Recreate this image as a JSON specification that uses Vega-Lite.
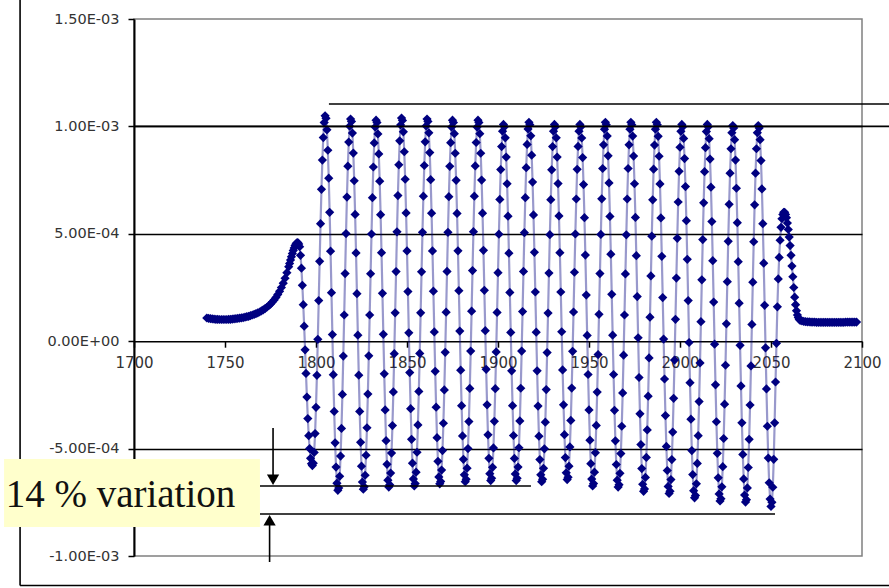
{
  "$schema": "https://vega.github.io/schema/vega-lite/v6.json",
  "width": 728,
  "height": 537,
  "autosize": {"type": "none"},
  "padding": {"left": 134, "top": 19, "right": 27, "bottom": 32},
  "background": "#ffffff",
  "config": {
    "view": {"stroke": "#808080", "strokeWidth": 1.5}
  },
  "datasets": {
    "sig": [
      {"x":1740,"y":1.08e-4},{"x":1741,"y":1.06e-4},{"x":1742,"y":1.05e-4},{"x":1743,"y":1.04e-4},{"x":1744,"y":1.03e-4},{"x":1745,"y":1.02e-4},{"x":1746,"y":1.02e-4},{"x":1747,"y":1.01e-4},{"x":1748,"y":1.01e-4},{"x":1749,"y":1.01e-4},
      {"x":1750,"y":1.01e-4},{"x":1751,"y":1.01e-4},{"x":1752,"y":1.02e-4},{"x":1753,"y":1.02e-4},{"x":1754,"y":1.03e-4},{"x":1755,"y":1.04e-4},{"x":1756,"y":1.05e-4},{"x":1757,"y":1.06e-4},{"x":1758,"y":1.07e-4},{"x":1759,"y":1.09e-4},
      {"x":1760,"y":1.10e-4},{"x":1761,"y":1.12e-4},{"x":1762,"y":1.14e-4},{"x":1763,"y":1.16e-4},{"x":1764,"y":1.19e-4},{"x":1765,"y":1.22e-4},{"x":1766,"y":1.25e-4},{"x":1767,"y":1.28e-4},{"x":1768,"y":1.32e-4},{"x":1769,"y":1.36e-4},
      {"x":1770,"y":1.41e-4},{"x":1771,"y":1.46e-4},{"x":1772,"y":1.52e-4},{"x":1773,"y":1.58e-4},{"x":1774,"y":1.65e-4},{"x":1775,"y":1.73e-4},{"x":1776,"y":1.82e-4},{"x":1777,"y":1.92e-4},{"x":1778,"y":2.04e-4},{"x":1779,"y":2.17e-4},
      {"x":1780,"y":2.32e-4},{"x":1781,"y":2.50e-4},{"x":1782,"y":2.70e-4},{"x":1783,"y":2.93e-4},{"x":1784,"y":3.19e-4},{"x":1785,"y":3.47e-4},{"x":1785.5,"y":3.62e-4},{"x":1786,"y":3.78e-4},{"x":1786.5,"y":3.93e-4},{"x":1787,"y":4.08e-4},
      {"x":1787.5,"y":4.22e-4},{"x":1788,"y":4.34e-4},{"x":1788.5,"y":4.45e-4},{"x":1789,"y":4.53e-4},{"x":1789.5,"y":4.58e-4},{"x":1790,"y":4.59e-4},{"x":1790.5,"y":4.52e-4},
      {"x":1791,"y":4.4e-4},{"x":1791.5,"y":4.0e-4},{"x":1792,"y":3.4e-4},{"x":1792.5,"y":2.6e-4},{"x":1793,"y":1.7e-4},{"x":1793.5,"y":0.7e-4},{"x":1794,"y":-0.4e-4},{"x":1794.5,"y":-1.5e-4},{"x":1795,"y":-2.6e-4},{"x":1795.5,"y":-3.6e-4},{"x":1796,"y":-4.4e-4},{"x":1796.5,"y":-5.0e-4},{"x":1797,"y":-5.45e-4},{"x":1797.5,"y":-5.7e-4},

      {"x":1798,"y":-5.79e-4},{"x":1798.5,"y":-5.68e-4},{"x":1799,"y":-5.18e-4},{"x":1799.5,"y":-4.30e-4},{"x":1800,"y":-3.08e-4},{"x":1800.5,"y":-1.59e-4},{"x":1801,"y":0.09e-4},{"x":1801.5,"y":1.89e-4},{"x":1802,"y":3.72e-4},{"x":1802.5,"y":5.47e-4},{"x":1803,"y":7.07e-4},{"x":1803.5,"y":8.43e-4},{"x":1804,"y":9.48e-4},{"x":1804.5,"y":10.18e-4},
      {"x":1805,"y":10.49e-4},{"x":1805.5,"y":10.38e-4},{"x":1806,"y":9.84e-4},{"x":1806.5,"y":8.89e-4},{"x":1807,"y":7.59e-4},{"x":1807.5,"y":6.00e-4},{"x":1808,"y":4.19e-4},{"x":1808.5,"y":2.26e-4},{"x":1809,"y":0.31e-4},{"x":1809.5,"y":-1.56e-4},{"x":1810,"y":-3.27e-4},{"x":1810.5,"y":-4.73e-4},{"x":1811,"y":-5.86e-4},{"x":1811.5,"y":-6.61e-4},

      {"x":1812,"y":-6.94e-4},{"x":1812.5,"y":-6.83e-4},{"x":1813,"y":-6.29e-4},{"x":1813.5,"y":-5.35e-4},{"x":1814,"y":-4.06e-4},{"x":1814.5,"y":-2.48e-4},{"x":1815,"y":-0.69e-4},{"x":1815.5,"y":1.22e-4},{"x":1816,"y":3.15e-4},{"x":1816.5,"y":5.01e-4},{"x":1817,"y":6.71e-4},{"x":1817.5,"y":8.15e-4},{"x":1818,"y":9.27e-4},{"x":1818.5,"y":10.01e-4},
      {"x":1819,"y":10.34e-4},{"x":1819.5,"y":10.23e-4},{"x":1820,"y":9.69e-4},{"x":1820.5,"y":8.76e-4},{"x":1821,"y":7.47e-4},{"x":1821.5,"y":5.90e-4},{"x":1822,"y":4.11e-4},{"x":1822.5,"y":2.21e-4},{"x":1823,"y":0.28e-4},{"x":1823.5,"y":-1.58e-4},{"x":1824,"y":-3.27e-4},{"x":1824.5,"y":-4.71e-4},{"x":1825,"y":-5.82e-4},{"x":1825.5,"y":-6.56e-4},

      {"x":1826,"y":-6.89e-4},{"x":1826.5,"y":-6.78e-4},{"x":1827,"y":-6.24e-4},{"x":1827.5,"y":-5.31e-4},{"x":1828,"y":-4.03e-4},{"x":1828.5,"y":-2.46e-4},{"x":1829,"y":-0.68e-4},{"x":1829.5,"y":1.22e-4},{"x":1830,"y":3.14e-4},{"x":1830.5,"y":4.99e-4},{"x":1831,"y":6.68e-4},{"x":1831.5,"y":8.11e-4},{"x":1832,"y":9.23e-4},{"x":1832.5,"y":9.97e-4},
      {"x":1833,"y":10.29e-4},{"x":1833.5,"y":10.18e-4},{"x":1834,"y":9.65e-4},{"x":1834.5,"y":8.72e-4},{"x":1835,"y":7.45e-4},{"x":1835.5,"y":5.89e-4},{"x":1836,"y":4.12e-4},{"x":1836.5,"y":2.23e-4},{"x":1837,"y":0.32e-4},{"x":1837.5,"y":-1.52e-4},{"x":1838,"y":-3.20e-4},{"x":1838.5,"y":-4.63e-4},{"x":1839,"y":-5.73e-4},{"x":1839.5,"y":-6.47e-4},

      {"x":1840,"y":-6.79e-4},{"x":1840.5,"y":-6.68e-4},{"x":1841,"y":-6.14e-4},{"x":1841.5,"y":-5.21e-4},{"x":1842,"y":-3.93e-4},{"x":1842.5,"y":-2.36e-4},{"x":1843,"y":-0.58e-4},{"x":1843.5,"y":1.32e-4},{"x":1844,"y":3.24e-4},{"x":1844.5,"y":5.09e-4},{"x":1845,"y":6.78e-4},{"x":1845.5,"y":8.21e-4},{"x":1846,"y":9.33e-4},{"x":1846.5,"y":10.07e-4},
      {"x":1847,"y":10.39e-4},{"x":1847.5,"y":10.28e-4},{"x":1848,"y":9.75e-4},{"x":1848.5,"y":8.82e-4},{"x":1849,"y":7.54e-4},{"x":1849.5,"y":5.97e-4},{"x":1850,"y":4.20e-4},{"x":1850.5,"y":2.31e-4},{"x":1851,"y":0.39e-4},{"x":1851.5,"y":-1.46e-4},{"x":1852,"y":-3.14e-4},{"x":1852.5,"y":-4.57e-4},{"x":1853,"y":-5.68e-4},{"x":1853.5,"y":-6.41e-4},

      {"x":1854,"y":-6.74e-4},{"x":1854.5,"y":-6.63e-4},{"x":1855,"y":-6.10e-4},{"x":1855.5,"y":-5.17e-4},{"x":1856,"y":-3.90e-4},{"x":1856.5,"y":-2.34e-4},{"x":1857,"y":-0.57e-4},{"x":1857.5,"y":1.32e-4},{"x":1858,"y":3.23e-4},{"x":1858.5,"y":5.07e-4},{"x":1859,"y":6.75e-4},{"x":1859.5,"y":8.18e-4},{"x":1860,"y":9.28e-4},{"x":1860.5,"y":10.02e-4},
      {"x":1861,"y":10.34e-4},{"x":1861.5,"y":10.23e-4},{"x":1862,"y":9.70e-4},{"x":1862.5,"y":8.78e-4},{"x":1863,"y":7.52e-4},{"x":1863.5,"y":5.96e-4},{"x":1864,"y":4.20e-4},{"x":1864.5,"y":2.33e-4},{"x":1865,"y":0.43e-4},{"x":1865.5,"y":-1.40e-4},{"x":1866,"y":-3.07e-4},{"x":1866.5,"y":-4.49e-4},{"x":1867,"y":-5.59e-4},{"x":1867.5,"y":-6.32e-4},

      {"x":1868,"y":-6.64e-4},{"x":1868.5,"y":-6.53e-4},{"x":1869,"y":-6.00e-4},{"x":1869.5,"y":-5.09e-4},{"x":1870,"y":-3.82e-4},{"x":1870.5,"y":-2.27e-4},{"x":1871,"y":-0.52e-4},{"x":1871.5,"y":1.35e-4},{"x":1872,"y":3.25e-4},{"x":1872.5,"y":5.07e-4},{"x":1873,"y":6.73e-4},{"x":1873.5,"y":8.14e-4},{"x":1874,"y":9.24e-4},{"x":1874.5,"y":9.97e-4},
      {"x":1875,"y":10.29e-4},{"x":1875.5,"y":10.18e-4},{"x":1876,"y":9.66e-4},{"x":1876.5,"y":8.75e-4},{"x":1877,"y":7.49e-4},{"x":1877.5,"y":5.95e-4},{"x":1878,"y":4.21e-4},{"x":1878.5,"y":2.35e-4},{"x":1879,"y":0.47e-4},{"x":1879.5,"y":-1.35e-4},{"x":1880,"y":-3.00e-4},{"x":1880.5,"y":-4.41e-4},{"x":1881,"y":-5.50e-4},{"x":1881.5,"y":-6.22e-4},

      {"x":1882,"y":-6.54e-4},{"x":1882.5,"y":-6.43e-4},{"x":1883,"y":-5.91e-4},{"x":1883.5,"y":-5.00e-4},{"x":1884,"y":-3.74e-4},{"x":1884.5,"y":-2.20e-4},{"x":1885,"y":-0.46e-4},{"x":1885.5,"y":1.40e-4},{"x":1886,"y":3.29e-4},{"x":1886.5,"y":5.10e-4},{"x":1887,"y":6.75e-4},{"x":1887.5,"y":8.16e-4},{"x":1888,"y":9.25e-4},{"x":1888.5,"y":9.97e-4},
      {"x":1889,"y":10.29e-4},{"x":1889.5,"y":10.18e-4},{"x":1890,"y":9.66e-4},{"x":1890.5,"y":8.75e-4},{"x":1891,"y":7.50e-4},{"x":1891.5,"y":5.96e-4},{"x":1892,"y":4.23e-4},{"x":1892.5,"y":2.37e-4},{"x":1893,"y":0.49e-4},{"x":1893.5,"y":-1.31e-4},{"x":1894,"y":-2.96e-4},{"x":1894.5,"y":-4.36e-4},{"x":1895,"y":-5.45e-4},{"x":1895.5,"y":-6.17e-4},

      {"x":1896,"y":-6.49e-4},{"x":1896.5,"y":-6.38e-4},{"x":1897,"y":-5.87e-4},{"x":1897.5,"y":-4.97e-4},{"x":1898,"y":-3.73e-4},{"x":1898.5,"y":-2.21e-4},{"x":1899,"y":-0.50e-4},{"x":1899.5,"y":1.34e-4},{"x":1900,"y":3.19e-4},{"x":1900.5,"y":4.98e-4},{"x":1901,"y":6.60e-4},{"x":1901.5,"y":7.99e-4},{"x":1902,"y":9.06e-4},{"x":1902.5,"y":9.78e-4},
      {"x":1903,"y":10.09e-4},{"x":1903.5,"y":9.98e-4},{"x":1904,"y":9.47e-4},{"x":1904.5,"y":8.57e-4},{"x":1905,"y":7.33e-4},{"x":1905.5,"y":5.82e-4},{"x":1906,"y":4.10e-4},{"x":1906.5,"y":2.27e-4},{"x":1907,"y":0.41e-4},{"x":1907.5,"y":-1.38e-4},{"x":1908,"y":-3.00e-4},{"x":1908.5,"y":-4.39e-4},{"x":1909,"y":-5.46e-4},{"x":1909.5,"y":-6.18e-4},

      {"x":1910,"y":-6.49e-4},{"x":1910.5,"y":-6.38e-4},{"x":1911,"y":-5.86e-4},{"x":1911.5,"y":-4.96e-4},{"x":1912,"y":-3.71e-4},{"x":1912.5,"y":-2.19e-4},{"x":1913,"y":-0.46e-4},{"x":1913.5,"y":1.38e-4},{"x":1914,"y":3.25e-4},{"x":1914.5,"y":5.05e-4},{"x":1915,"y":6.68e-4},{"x":1915.5,"y":8.08e-4},{"x":1916,"y":9.16e-4},{"x":1916.5,"y":9.88e-4},
      {"x":1917,"y":10.19e-4},{"x":1917.5,"y":10.08e-4},{"x":1918,"y":9.56e-4},{"x":1918.5,"y":8.66e-4},{"x":1919,"y":7.41e-4},{"x":1919.5,"y":5.88e-4},{"x":1920,"y":4.14e-4},{"x":1920.5,"y":2.29e-4},{"x":1921,"y":0.42e-4},{"x":1921.5,"y":-1.38e-4},{"x":1922,"y":-3.02e-4},{"x":1922.5,"y":-4.42e-4},{"x":1923,"y":-5.51e-4},{"x":1923.5,"y":-6.22e-4},

      {"x":1924,"y":-6.54e-4},{"x":1924.5,"y":-6.43e-4},{"x":1925,"y":-5.92e-4},{"x":1925.5,"y":-5.01e-4},{"x":1926,"y":-3.77e-4},{"x":1926.5,"y":-2.25e-4},{"x":1927,"y":-0.53e-4},{"x":1927.5,"y":1.31e-4},{"x":1928,"y":3.17e-4},{"x":1928.5,"y":4.96e-4},{"x":1929,"y":6.59e-4},{"x":1929.5,"y":7.98e-4},{"x":1930,"y":9.06e-4},{"x":1930.5,"y":9.78e-4},
      {"x":1931,"y":10.09e-4},{"x":1931.5,"y":9.98e-4},{"x":1932,"y":9.47e-4},{"x":1932.5,"y":8.57e-4},{"x":1933,"y":7.34e-4},{"x":1933.5,"y":5.83e-4},{"x":1934,"y":4.12e-4},{"x":1934.5,"y":2.29e-4},{"x":1935,"y":0.44e-4},{"x":1935.5,"y":-1.34e-4},{"x":1936,"y":-2.96e-4},{"x":1936.5,"y":-4.35e-4},{"x":1937,"y":-5.42e-4},{"x":1937.5,"y":-6.13e-4},

      {"x":1938,"y":-6.44e-4},{"x":1938.5,"y":-6.33e-4},{"x":1939,"y":-5.82e-4},{"x":1939.5,"y":-4.92e-4},{"x":1940,"y":-3.69e-4},{"x":1940.5,"y":-2.18e-4},{"x":1941,"y":-0.47e-4},{"x":1941.5,"y":1.36e-4},{"x":1942,"y":3.21e-4},{"x":1942.5,"y":4.99e-4},{"x":1943,"y":6.62e-4},{"x":1943.5,"y":8.00e-4},{"x":1944,"y":9.07e-4},{"x":1944.5,"y":9.78e-4},
      {"x":1945,"y":10.09e-4},{"x":1945.5,"y":9.98e-4},{"x":1946,"y":9.46e-4},{"x":1946.5,"y":8.55e-4},{"x":1947,"y":7.29e-4},{"x":1947.5,"y":5.75e-4},{"x":1948,"y":4.01e-4},{"x":1948.5,"y":2.15e-4},{"x":1949,"y":0.27e-4},{"x":1949.5,"y":-1.55e-4},{"x":1950,"y":-3.20e-4},{"x":1950.5,"y":-4.61e-4},{"x":1951,"y":-5.70e-4},{"x":1951.5,"y":-6.42e-4},

      {"x":1952,"y":-6.74e-4},{"x":1952.5,"y":-6.63e-4},{"x":1953,"y":-6.10e-4},{"x":1953.5,"y":-5.19e-4},{"x":1954,"y":-3.92e-4},{"x":1954.5,"y":-2.37e-4},{"x":1955,"y":-0.62e-4},{"x":1955.5,"y":1.25e-4},{"x":1956,"y":3.15e-4},{"x":1956.5,"y":4.97e-4},{"x":1957,"y":6.63e-4},{"x":1957.5,"y":8.04e-4},{"x":1958,"y":9.14e-4},{"x":1958.5,"y":9.87e-4},
      {"x":1959,"y":10.19e-4},{"x":1959.5,"y":10.08e-4},{"x":1960,"y":9.55e-4},{"x":1960.5,"y":8.63e-4},{"x":1961,"y":7.37e-4},{"x":1961.5,"y":5.81e-4},{"x":1962,"y":4.05e-4},{"x":1962.5,"y":2.18e-4},{"x":1963,"y":0.28e-4},{"x":1963.5,"y":-1.55e-4},{"x":1964,"y":-3.22e-4},{"x":1964.5,"y":-4.64e-4},{"x":1965,"y":-5.74e-4},{"x":1965.5,"y":-6.47e-4},

      {"x":1966,"y":-6.79e-4},{"x":1966.5,"y":-6.68e-4},{"x":1967,"y":-6.15e-4},{"x":1967.5,"y":-5.23e-4},{"x":1968,"y":-3.96e-4},{"x":1968.5,"y":-2.41e-4},{"x":1969,"y":-0.65e-4},{"x":1969.5,"y":1.22e-4},{"x":1970,"y":3.13e-4},{"x":1970.5,"y":4.95e-4},{"x":1971,"y":6.62e-4},{"x":1971.5,"y":8.04e-4},{"x":1972,"y":9.14e-4},{"x":1972.5,"y":9.87e-4},
      {"x":1973,"y":10.19e-4},{"x":1973.5,"y":10.08e-4},{"x":1974,"y":9.55e-4},{"x":1974.5,"y":8.62e-4},{"x":1975,"y":7.33e-4},{"x":1975.5,"y":5.76e-4},{"x":1976,"y":3.98e-4},{"x":1976.5,"y":2.08e-4},{"x":1977,"y":0.16e-4},{"x":1977.5,"y":-1.69e-4},{"x":1978,"y":-3.38e-4},{"x":1978.5,"y":-4.81e-4},{"x":1979,"y":-5.93e-4},{"x":1979.5,"y":-6.66e-4},

      {"x":1980,"y":-6.99e-4},{"x":1980.5,"y":-6.88e-4},{"x":1981,"y":-6.34e-4},{"x":1981.5,"y":-5.41e-4},{"x":1982,"y":-4.13e-4},{"x":1982.5,"y":-2.56e-4},{"x":1983,"y":-0.78e-4},{"x":1983.5,"y":1.12e-4},{"x":1984,"y":3.04e-4},{"x":1984.5,"y":4.89e-4},{"x":1985,"y":6.58e-4},{"x":1985.5,"y":8.01e-4},{"x":1986,"y":9.13e-4},{"x":1986.5,"y":9.87e-4},
      {"x":1987,"y":10.19e-4},{"x":1987.5,"y":10.08e-4},{"x":1988,"y":9.54e-4},{"x":1988.5,"y":8.61e-4},{"x":1989,"y":7.32e-4},{"x":1989.5,"y":5.74e-4},{"x":1990,"y":3.95e-4},{"x":1990.5,"y":2.03e-4},{"x":1991,"y":0.10e-4},{"x":1991.5,"y":-1.76e-4},{"x":1992,"y":-3.46e-4},{"x":1992.5,"y":-4.90e-4},{"x":1993,"y":-6.02e-4},{"x":1993.5,"y":-6.76e-4},

      {"x":1994,"y":-7.09e-4},{"x":1994.5,"y":-6.98e-4},{"x":1995,"y":-6.44e-4},{"x":1995.5,"y":-5.51e-4},{"x":1996,"y":-4.23e-4},{"x":1996.5,"y":-2.66e-4},{"x":1997,"y":-0.88e-4},{"x":1997.5,"y":1.02e-4},{"x":1998,"y":2.94e-4},{"x":1998.5,"y":4.79e-4},{"x":1999,"y":6.48e-4},{"x":1999.5,"y":7.91e-4},{"x":2000,"y":9.03e-4},{"x":2000.5,"y":9.77e-4},
      {"x":2001,"y":10.09e-4},{"x":2001.5,"y":9.98e-4},{"x":2002,"y":9.44e-4},{"x":2002.5,"y":8.50e-4},{"x":2003,"y":7.20e-4},{"x":2003.5,"y":5.61e-4},{"x":2004,"y":3.81e-4},{"x":2004.5,"y":1.89e-4},{"x":2005,"y":-0.06e-4},{"x":2005.5,"y":-1.93e-4},{"x":2006,"y":-3.63e-4},{"x":2006.5,"y":-5.09e-4},{"x":2007,"y":-6.21e-4},{"x":2007.5,"y":-6.96e-4},

      {"x":2008,"y":-7.29e-4},{"x":2008.5,"y":-7.18e-4},{"x":2009,"y":-6.64e-4},{"x":2009.5,"y":-5.69e-4},{"x":2010,"y":-4.40e-4},{"x":2010.5,"y":-2.81e-4},{"x":2011,"y":-1.01e-4},{"x":2011.5,"y":0.91e-4},{"x":2012,"y":2.86e-4},{"x":2012.5,"y":4.73e-4},{"x":2013,"y":6.44e-4},{"x":2013.5,"y":7.89e-4},{"x":2014,"y":9.01e-4},{"x":2014.5,"y":9.76e-4},
      {"x":2015,"y":10.09e-4},{"x":2015.5,"y":9.98e-4},{"x":2016,"y":9.43e-4},{"x":2016.5,"y":8.48e-4},{"x":2017,"y":7.17e-4},{"x":2017.5,"y":5.57e-4},{"x":2018,"y":3.75e-4},{"x":2018.5,"y":1.82e-4},{"x":2019,"y":-0.14e-4},{"x":2019.5,"y":-2.03e-4},{"x":2020,"y":-3.75e-4},{"x":2020.5,"y":-5.22e-4},{"x":2021,"y":-6.36e-4},{"x":2021.5,"y":-7.11e-4},

      {"x":2022,"y":-7.44e-4},{"x":2022.5,"y":-7.33e-4},{"x":2023,"y":-6.78e-4},{"x":2023.5,"y":-5.84e-4},{"x":2024,"y":-4.53e-4},{"x":2024.5,"y":-2.93e-4},{"x":2025,"y":-1.12e-4},{"x":2025.5,"y":0.81e-4},{"x":2026,"y":2.77e-4},{"x":2026.5,"y":4.65e-4},{"x":2027,"y":6.37e-4},{"x":2027.5,"y":7.82e-4},{"x":2028,"y":8.96e-4},{"x":2028.5,"y":9.71e-4},
      {"x":2029,"y":10.04e-4},{"x":2029.5,"y":9.93e-4},{"x":2030,"y":9.38e-4},{"x":2030.5,"y":8.43e-4},{"x":2031,"y":7.12e-4},{"x":2031.5,"y":5.52e-4},{"x":2032,"y":3.70e-4},{"x":2032.5,"y":1.77e-4},{"x":2033,"y":-0.19e-4},{"x":2033.5,"y":-2.08e-4},{"x":2034,"y":-3.80e-4},{"x":2034.5,"y":-5.27e-4},{"x":2035,"y":-6.41e-4},{"x":2035.5,"y":-7.16e-4},

      {"x":2036,"y":-7.49e-4},{"x":2036.5,"y":-7.38e-4},{"x":2037,"y":-6.83e-4},{"x":2037.5,"y":-5.88e-4},{"x":2038,"y":-4.57e-4},{"x":2038.5,"y":-2.97e-4},{"x":2039,"y":-1.15e-4},{"x":2039.5,"y":0.78e-4},{"x":2040,"y":2.75e-4},{"x":2040.5,"y":4.63e-4},{"x":2041,"y":6.35e-4},{"x":2041.5,"y":7.82e-4},{"x":2042,"y":8.96e-4},{"x":2042.5,"y":9.71e-4},
      {"x":2043,"y":10.04e-4},{"x":2043.5,"y":9.93e-4},{"x":2044,"y":9.38e-4},{"x":2044.5,"y":8.41e-4},{"x":2045,"y":7.09e-4},{"x":2045.5,"y":5.47e-4},{"x":2046,"y":3.63e-4},{"x":2046.5,"y":1.67e-4},{"x":2047,"y":-0.31e-4},{"x":2047.5,"y":-2.22e-4},{"x":2048,"y":-3.96e-4},{"x":2048.5,"y":-5.44e-4},{"x":2049,"y":-6.59e-4},{"x":2049.5,"y":-7.35e-4},

      {"x":2050,"y":-7.69e-4},{"x":2050.5,"y":-7.5e-4},{"x":2051,"y":-6.8e-4},{"x":2051.5,"y":-5.5e-4},{"x":2052,"y":-3.8e-4},{"x":2052.5,"y":-1.9e-4},{"x":2053,"y":-0.1e-4},{"x":2053.5,"y":1.6e-4},{"x":2054,"y":2.9e-4},{"x":2054.5,"y":3.9e-4},{"x":2055,"y":4.7e-4},{"x":2055.5,"y":5.3e-4},
      {"x":2056,"y":5.7e-4},{"x":2056.5,"y":5.9e-4},{"x":2057,"y":6.0e-4},{"x":2057.5,"y":6.0e-4},{"x":2058,"y":5.9e-4},{"x":2058.5,"y":5.75e-4},{"x":2059,"y":5.5e-4},{"x":2059.5,"y":5.2e-4},{"x":2060,"y":4.85e-4},{"x":2060.5,"y":4.45e-4},{"x":2061,"y":4.0e-4},{"x":2061.5,"y":3.5e-4},
      {"x":2062,"y":3.0e-4},{"x":2062.5,"y":2.5e-4},{"x":2063,"y":2.05e-4},{"x":2063.5,"y":1.7e-4},{"x":2064,"y":1.42e-4},{"x":2064.5,"y":1.22e-4},{"x":2065,"y":1.1e-4},{"x":2065.5,"y":1.02e-4},{"x":2066,"y":0.97e-4},{"x":2067,"y":0.94e-4},{"x":2068,"y":0.92e-4},{"x":2069,"y":0.91e-4},
      {"x":2070,"y":0.90e-4},{"x":2071,"y":0.90e-4},{"x":2072,"y":0.89e-4},{"x":2073,"y":0.89e-4},{"x":2074,"y":0.89e-4},{"x":2075,"y":0.88e-4},{"x":2076,"y":0.88e-4},{"x":2077,"y":0.88e-4},{"x":2078,"y":0.88e-4},{"x":2079,"y":0.88e-4},
      {"x":2080,"y":0.88e-4},{"x":2081,"y":0.88e-4},{"x":2082,"y":0.88e-4},{"x":2083,"y":0.88e-4},{"x":2084,"y":0.88e-4},{"x":2085,"y":0.88e-4},{"x":2086,"y":0.88e-4},{"x":2087,"y":0.88e-4},{"x":2088,"y":0.88e-4},{"x":2089,"y":0.88e-4},
      {"x":2090,"y":0.88e-4},{"x":2091,"y":0.89e-4},{"x":2092,"y":0.89e-4},{"x":2093,"y":0.89e-4},{"x":2094,"y":0.89e-4},{"x":2095,"y":0.89e-4},{"x":2096,"y":0.89e-4},{"x":2097,"y":0.89e-4}
    ],
    "lines": [
      {"x":1807.1,"x2":2120,"y":0.001104,"y2":0.001104},
      {"x":1700,"x2":2120,"y":0.001,"y2":0.001},
      {"x":1769.2,"x2":1918.1,"y":-0.000674,"y2":-0.000674},
      {"x":1769.2,"x2":2052.2,"y":-0.0008045,"y2":-0.0008045},
      {"x":1776.4,"x2":1776.4,"y":-0.000404,"y2":-0.00064},
      {"x":1774.5,"x2":1774.5,"y":-0.001028,"y2":-0.00084},
      {"x":1637.4,"x2":1637.4,"y":-0.0011374,"y2":0.0016},
      {"x":1637.4,"x2":2120,"y":-0.0011374,"y2":-0.0011374}
    ],
    "headDown": [{"x":1776.4,"y":-0.0006448}],
    "headUp": [{"x":1774.5,"y":-0.0008338}],
    "box": [{"x":1628.6,"x2":1769.2,"y":-0.0005484,"y2":-0.000865}],
    "label": [{"x":1629.5,"y":-0.000772,"t":"14 % variation"}]
  },
  "encoding": {
    "x": {
      "field": "x", "type": "quantitative", "title": null,
      "scale": {"domain": [1700, 2100], "nice": false, "zero": false},
      "axis": {
        "values": [1700, 1750, 1800, 1850, 1900, 1950, 2000, 2050, 2100],
        "format": "d", "offset": -214.8, "grid": false,
        "domainColor": "#000000", "domainWidth": 1.5,
        "tickColor": "#000000", "tickSize": 6, "tickWidth": 1.5,
        "labelFont": "DejaVu Sans", "labelFontSize": 15, "labelColor": "#333333",
        "labelPadding": 8, "labelFlush": false, "labelOverlap": false
      }
    },
    "y": {
      "field": "y", "type": "quantitative", "title": null,
      "scale": {"domain": [-0.001, 0.0015], "nice": false, "zero": false},
      "axis": {
        "values": [-0.001, -0.0005, 0, 0.0005, 0.001, 0.0015],
        "labelExpr": "datum.value > 0.0012 ? '1.50E-03' : datum.value > 0.0007 ? '1.00E-03' : datum.value > 0.0002 ? '5.00E-04' : datum.value > -0.0002 ? '0.00E+00' : datum.value > -0.0007 ? '-5.00E-04' : '-1.00E-03'",
        "grid": true,
        "gridColor": {"condition": {"test": "datum.value > 0.0012 || datum.value < -0.0008 || abs(datum.value) < 0.0002", "value": "transparent"}, "value": "#000000"},
        "gridWidth": 1.5,
        "domainColor": "#000000", "domainWidth": 2,
        "tickColor": "#000000", "tickSize": 6, "tickWidth": 1.5,
        "labelFont": "DejaVu Sans", "labelFontSize": 14.5, "labelColor": "#333333",
        "labelPadding": 9, "labelOverlap": false
      }
    }
  },
  "layer": [
    {
      "data": {"name": "sig"},
      "mark": {"type": "line", "color": "#000080", "strokeWidth": 2.2, "opacity": 0.4}
    },
    {
      "data": {"name": "sig"},
      "mark": {"type": "point", "shape": "diamond", "filled": true, "color": "#000080", "size": 85, "opacity": 1}
    },
    {
      "data": {"name": "lines"},
      "mark": {"type": "rule", "color": "#000000", "strokeWidth": 1.6},
      "encoding": {"x2": {"field": "x2"}, "y2": {"field": "y2"}}
    },
    {
      "data": {"name": "headDown"},
      "mark": {"type": "point", "shape": "triangle-down", "filled": true, "color": "#000000", "size": 150, "opacity": 1}
    },
    {
      "data": {"name": "headUp"},
      "mark": {"type": "point", "shape": "triangle-up", "filled": true, "color": "#000000", "size": 150, "opacity": 1}
    },
    {
      "data": {"name": "box"},
      "mark": {"type": "rect", "color": "#FFFFCC"},
      "encoding": {"x2": {"field": "x2"}, "y2": {"field": "y2"}}
    },
    {
      "data": {"name": "label"},
      "mark": {"type": "text", "align": "left", "baseline": "alphabetic", "font": "Liberation Serif", "fontSize": 39, "color": "#111111"},
      "encoding": {"text": {"field": "t"}}
    }
  ]
}
